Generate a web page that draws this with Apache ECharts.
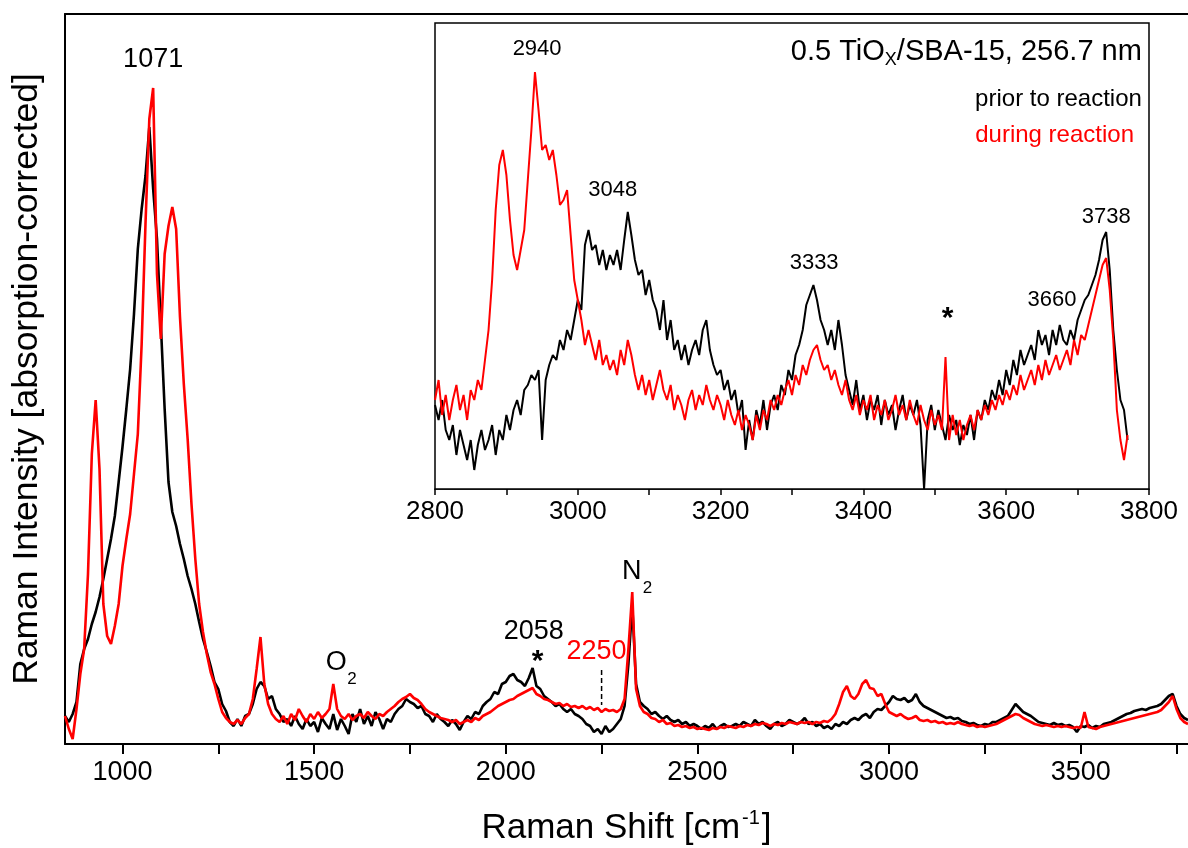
<!DOCTYPE html>
<html>
<head>
<meta charset="utf-8">
<script src="https://cdn.jsdelivr.net/npm/echarts@6/dist/echarts.min.js"></script>
<style>
html,body{margin:0;padding:0;background:#fff;}
#c{width:1188px;height:848px;}
</style>
</head>
<body>
<div id="c"></div>
<script>
// ---------- DATA ----------
// Main spectrum: Raman shift grid 850..3780 cm-1, step 10
const mainStart = 850, mainStep = 10;
const mainTickValues = [1000, 1250, 1500, 1750, 2000, 2250, 2500, 2750, 3000, 3250, 3500, 3750];
const mainLabelValues = [1000, 1500, 2000, 2500, 3000, 3500];
// prior to reaction (black), arbitrary intensity
const mainBlack = [
 28,22,30,42,80,95,105,120,132,147,
 165,185,205,228,262,297,335,375,430,495,
 535,568,617,555,505,420,335,262,232,218,
 200,185,168,155,140,122,105,92,78,62,
 55,40,33,22,18,25,18,28,30,40,
 55,62,58,45,48,35,30,22,25,18,
 28,20,15,25,18,22,12,26,20,15,
 30,14,25,18,10,30,22,35,20,28,
 18,32,25,15,25,22,30,35,38,45,
 42,40,36,38,30,28,22,30,25,22,
 18,24,20,14,22,28,25,32,30,38,
 42,45,52,50,60,62,68,70,64,62,
 58,66,76,58,55,48,45,42,38,40,
 35,32,35,30,28,25,20,18,12,15,
 10,18,12,15,20,25,38,80,139,60,
 42,38,35,30,32,28,25,28,24,22,
 24,20,22,18,20,18,15,18,16,20,
 15,18,20,17,18,20,18,22,20,18,
 24,20,22,18,15,20,22,18,20,24,
 22,20,22,26,20,22,18,20,16,18,
 15,20,18,22,20,24,26,24,28,30,
 26,32,35,34,38,42,48,45,44,46,
 42,44,50,42,38,36,34,32,30,28,
 26,27,25,26,23,22,20,21,19,18,
 20,19,22,22,24,26,28,34,40,36,
 32,30,28,25,22,21,20,19,21,19,
 20,18,19,17,12,18,17,19,16,18,
 17,20,21,22,24,26,28,30,31,33,
 34,35,34,36,37,38,40,44,48,50,
 38,30,26,24
];
// during reaction (red)
const mainRed = [
 28,15,5,35,70,95,170,290,344,275,
 140,108,100,118,140,178,205,230,270,310,
 400,520,625,656,470,405,490,518,537,515,
 427,360,305,240,185,140,112,90,72,60,
 45,32,26,22,20,24,20,26,30,45,
 75,107,60,40,30,25,22,28,20,30,
 24,35,28,22,30,25,32,26,30,35,
 60,35,28,25,30,24,28,30,26,32,
 28,25,30,28,32,35,38,42,45,47,
 50,46,44,40,35,32,30,28,26,25,
 24,22,24,20,22,24,22,26,24,28,
 30,32,35,38,40,42,44,45,48,50,
 52,54,56,50,48,45,44,42,40,41,
 38,40,37,38,36,38,35,37,34,36,
 32,35,33,34,32,35,45,95,152,55,
 38,32,30,26,25,22,24,20,21,18,
 19,17,18,16,17,15,16,15,14,16,
 15,17,16,18,17,16,18,17,19,18,
 20,19,21,20,18,20,19,21,20,22,
 21,20,22,21,22,20,22,21,23,22,
 25,30,40,52,58,48,45,50,60,64,
 56,55,48,50,40,32,30,28,30,27,
 25,26,28,24,23,24,22,23,21,22,
 20,21,20,22,20,19,18,19,17,18,
 17,18,19,20,22,24,26,28,30,29,
 26,24,22,20,19,18,19,18,17,18,
 17,18,17,16,17,16,32,17,16,15,
 17,18,19,20,21,22,23,24,25,26,
 27,28,29,30,31,32,34,38,42,48,
 35,26,22,20
];
// Inset: 2800..3770 cm-1, step 5
const insetStart = 2800, insetStep = 5;
const insetBlack = [
 84,69,89,59,49,64,34,59,44,29,49,19,44,59,39,49,64,34,59,49,
 74,59,79,89,74,99,104,114,109,119,49,109,124,134,129,149,139,159,149,169,
 189,179,244,259,239,244,224,239,219,234,224,239,219,249,277,254,229,214,219,194,
 209,189,179,159,189,149,169,139,149,129,144,124,139,149,134,159,169,139,124,114,
 119,99,109,89,99,74,89,39,69,49,79,64,89,59,84,94,79,104,94,119,
 109,134,144,159,184,194,204,189,169,159,144,159,139,169,144,114,99,84,109,79,
 94,69,89,79,94,64,89,74,84,59,79,94,69,84,74,89,64,0,69,84,
 59,79,64,49,74,59,69,44,64,54,74,49,79,69,89,79,99,89,109,94,
 119,104,129,114,139,124,134,144,129,159,144,154,134,159,144,164,149,144,159,149,
 169,179,189,194,204,214,229,249,257,219,159,119,89,79,49
];
const insetRed = [
 89,109,74,94,69,89,104,79,94,69,99,89,109,99,129,159,209,279,324,339,
 314,269,234,219,239,259,309,359,417,379,339,344,329,339,314,284,289,299,254,209,
 189,169,144,159,144,129,149,124,134,119,129,114,139,124,149,134,114,99,114,94,
 109,89,104,119,99,89,104,79,94,84,69,89,99,79,94,84,104,89,79,94,
 84,69,89,74,64,79,59,74,64,49,74,59,79,69,89,79,94,84,99,109,
 94,114,104,124,114,129,139,144,129,119,124,109,119,104,94,109,89,79,94,74,
 89,79,94,69,84,74,89,69,79,94,74,84,69,89,74,64,84,69,59,79,
 64,74,59,132,49,74,54,69,49,64,74,59,79,69,84,74,89,79,94,84,
 99,89,104,94,114,99,109,119,104,124,109,129,114,124,134,119,129,139,124,149,
 134,154,149,164,179,194,209,224,231,199,149,79,49,29,54
];
// Annotations (data coordinates)
const mainNotes = [
  {t:'1071', x:1080, y:684, c:'#000'},
  {t:'2058', x:2073, y:112, c:'#000'},
  {t:'2250', x:2237, y:92, c:'#f00'}
];
const insetNotes = [
  {t:'2940', x:2943, y:440},
  {t:'3048', x:3049, y:299},
  {t:'3333', x:3331, y:226},
  {t:'3660', x:3664, y:189},
  {t:'3738', x:3740, y:272}
];

// ---------- CHART ----------
const FONT = '"Liberation Sans", Arial, Helvetica, sans-serif';
const toPairs = (arr, start, step) => arr.map((v, i) => [start + i * step, v]);
const plain = v => String(v);

const chart = echarts.init(document.getElementById('c'), null, {renderer: 'canvas'});
chart.setOption({
  animation: false,
  backgroundColor: '#fff',
  textStyle: {fontFamily: FONT},
  grid: [
    {left: 65, top: 14, right: 0, bottom: 104, containLabel: false, outerBoundsMode: 'none'},
    {left: 435, top: 23, width: 714, height: 466, show: true, borderColor: '#000', borderWidth: 1.5, backgroundColor: '#fff', z: 5, containLabel: false, outerBoundsMode: 'none'}
  ],
  xAxis: [
    {
      type: 'value', gridIndex: 0, min: 850, max: 3780,
      axisLine: {show: true, onZero: false, lineStyle: {color: '#000', width: 2}},
      axisTick: {show: true, length: 10, lineStyle: {color: '#000', width: 2}, customValues: mainTickValues},
      axisLabel: {show: true, color: '#000', fontSize: 27, fontFamily: FONT, margin: 15, customValues: mainLabelValues, formatter: plain},
      splitLine: {show: false},
      name: '{n|Raman Shift [cm}{s|-1}{n|]}',
      nameLocation: 'middle', nameGap: 64,
      nameTextStyle: {
        rich: {
          n: {fontSize: 35, fontFamily: FONT, color: '#000', lineHeight: 40},
          s: {fontSize: 20, fontFamily: FONT, color: '#000', verticalAlign: 'top', lineHeight: 40, padding: [0, 2, 18, 2]}
        }
      }
    },
    {
      type: 'value', gridIndex: 0, position: 'top', min: 850, max: 3780,
      axisLine: {show: true, onZero: false, lineStyle: {color: '#000', width: 2}},
      axisTick: {show: false}, axisLabel: {show: false}, splitLine: {show: false}
    },
    {
      type: 'value', gridIndex: 1, min: 2800, max: 3800, interval: 200,
      axisLine: {show: true, onZero: false, lineStyle: {color: '#000', width: 1.5}},
      axisTick: {show: true, length: 6, lineStyle: {color: '#000', width: 1.5}},
      minorTick: {show: true, splitNumber: 2, length: 6, lineStyle: {color: '#000', width: 1.5}},
      axisLabel: {show: true, color: '#000', fontSize: 26, fontFamily: FONT, margin: 10, formatter: plain},
      splitLine: {show: false}, minorSplitLine: {show: false}
    }
  ],
  yAxis: [
    {
      type: 'value', gridIndex: 0, min: 0, max: 730,
      axisLine: {show: true, lineStyle: {color: '#000', width: 2}},
      axisTick: {show: false}, axisLabel: {show: false}, splitLine: {show: false},
      name: 'Raman Intensity [absorption-corrected]',
      nameLocation: 'middle', nameGap: 20,
      nameTextStyle: {fontSize: 35.5, fontFamily: FONT, color: '#000'}
    },
    {
      type: 'value', gridIndex: 1, min: 0, max: 466,
      axisLine: {show: false}, axisTick: {show: false}, axisLabel: {show: false}, splitLine: {show: false}
    }
  ],
  series: [
    {type: 'line', name: 'prior main', xAxisIndex: 0, yAxisIndex: 0, data: toPairs(mainBlack, mainStart, mainStep),
      showSymbol: false, symbol: 'none', lineStyle: {color: '#000', width: 2.6}, z: 2},
    {type: 'line', name: 'during main', xAxisIndex: 0, yAxisIndex: 0, data: toPairs(mainRed, mainStart, mainStep),
      showSymbol: false, symbol: 'none', lineStyle: {color: '#f00', width: 2.6}, z: 3},
    {type: 'line', name: 'prior inset', xAxisIndex: 2, yAxisIndex: 1, data: toPairs(insetBlack, insetStart, insetStep),
      showSymbol: false, symbol: 'none', lineStyle: {color: '#000', width: 2}, z: 6},
    {type: 'line', name: 'during inset', xAxisIndex: 2, yAxisIndex: 1, data: toPairs(insetRed, insetStart, insetStep),
      showSymbol: false, symbol: 'none', lineStyle: {color: '#f00', width: 2}, z: 7}
  ]
});

// ---------- annotations ----------
const g = [];
const pm = (x, y) => chart.convertToPixel({xAxisIndex: 0, yAxisIndex: 0}, [x, y]);
const pi = (x, y) => chart.convertToPixel({xAxisIndex: 2, yAxisIndex: 1}, [x, y]);
mainNotes.forEach(n => {
  const p = pm(n.x, n.y);
  g.push({type: 'text', z: 20, x: p[0], y: p[1], style: {text: n.t, fill: n.c, font: '27px ' + FONT, align: 'center', verticalAlign: 'middle'}});
});
{
  const p = pm(2083, 82);
  g.push({type: 'text', z: 20, x: p[0], y: p[1], style: {text: '*', fill: '#000', font: 'bold 30px ' + FONT, align: 'center', verticalAlign: 'middle'}});
}
// O2 and N2 with subscripts
[[1558, 81, 'O'], [2329, 172, 'N']].forEach(a => {
  const p = pm(a[0], a[1]);
  g.push({type: 'text', z: 20, x: p[0], y: p[1], style: {text: a[2], fill: '#000', font: '27px ' + FONT, align: 'center', verticalAlign: 'middle'}});
  g.push({type: 'text', z: 20, x: p[0] + 11, y: p[1] + 16, style: {text: '2', fill: '#000', font: '17px ' + FONT, align: 'left', verticalAlign: 'middle'}});
});
// dashed marker at 2250
{
  const p1 = pm(2250, 74), p2 = pm(2250, 39);
  g.push({type: 'line', z: 20, shape: {x1: p1[0], y1: p1[1], x2: p2[0], y2: p2[1]}, style: {stroke: '#000', lineWidth: 1.5, lineDash: [5, 3]}});
}
insetNotes.forEach(n => {
  const p = pi(n.x, n.y);
  g.push({type: 'text', z: 20, x: p[0], y: p[1], style: {text: n.t, fill: '#000', font: '22px ' + FONT, align: 'center', verticalAlign: 'middle'}});
});
{
  const p = pi(3518, 170);
  g.push({type: 'text', z: 20, x: p[0], y: p[1], style: {text: '*', fill: '#000', font: 'bold 30px ' + FONT, align: 'center', verticalAlign: 'middle'}});
}
// inset legend / title (right aligned)
{
  const p = pi(3790, 437);
  g.push({type: 'text', z: 20, x: p[0], y: p[1], style: {
    text: '{n|0.5 TiO}{s|X}{n|/SBA-15, 256.7 nm}', align: 'right', verticalAlign: 'middle',
    rich: {
      n: {font: '29px ' + FONT, fill: '#000', lineHeight: 34},
      s: {font: '18px ' + FONT, fill: '#000', verticalAlign: 'bottom', lineHeight: 34, padding: [16, 0, 0, 0]}
    }
  }});
  const q = pi(3790, 390);
  g.push({type: 'text', z: 20, x: q[0], y: q[1], style: {text: 'prior to reaction', fill: '#000', font: '24px ' + FONT, align: 'right', verticalAlign: 'middle'}});
  const r = pi(3779, 354);
  g.push({type: 'text', z: 20, x: r[0], y: r[1], style: {text: 'during reaction', fill: '#f00', font: '24px ' + FONT, align: 'right', verticalAlign: 'middle'}});
}
chart.setOption({graphic: g});
</script>
</body>
</html>
